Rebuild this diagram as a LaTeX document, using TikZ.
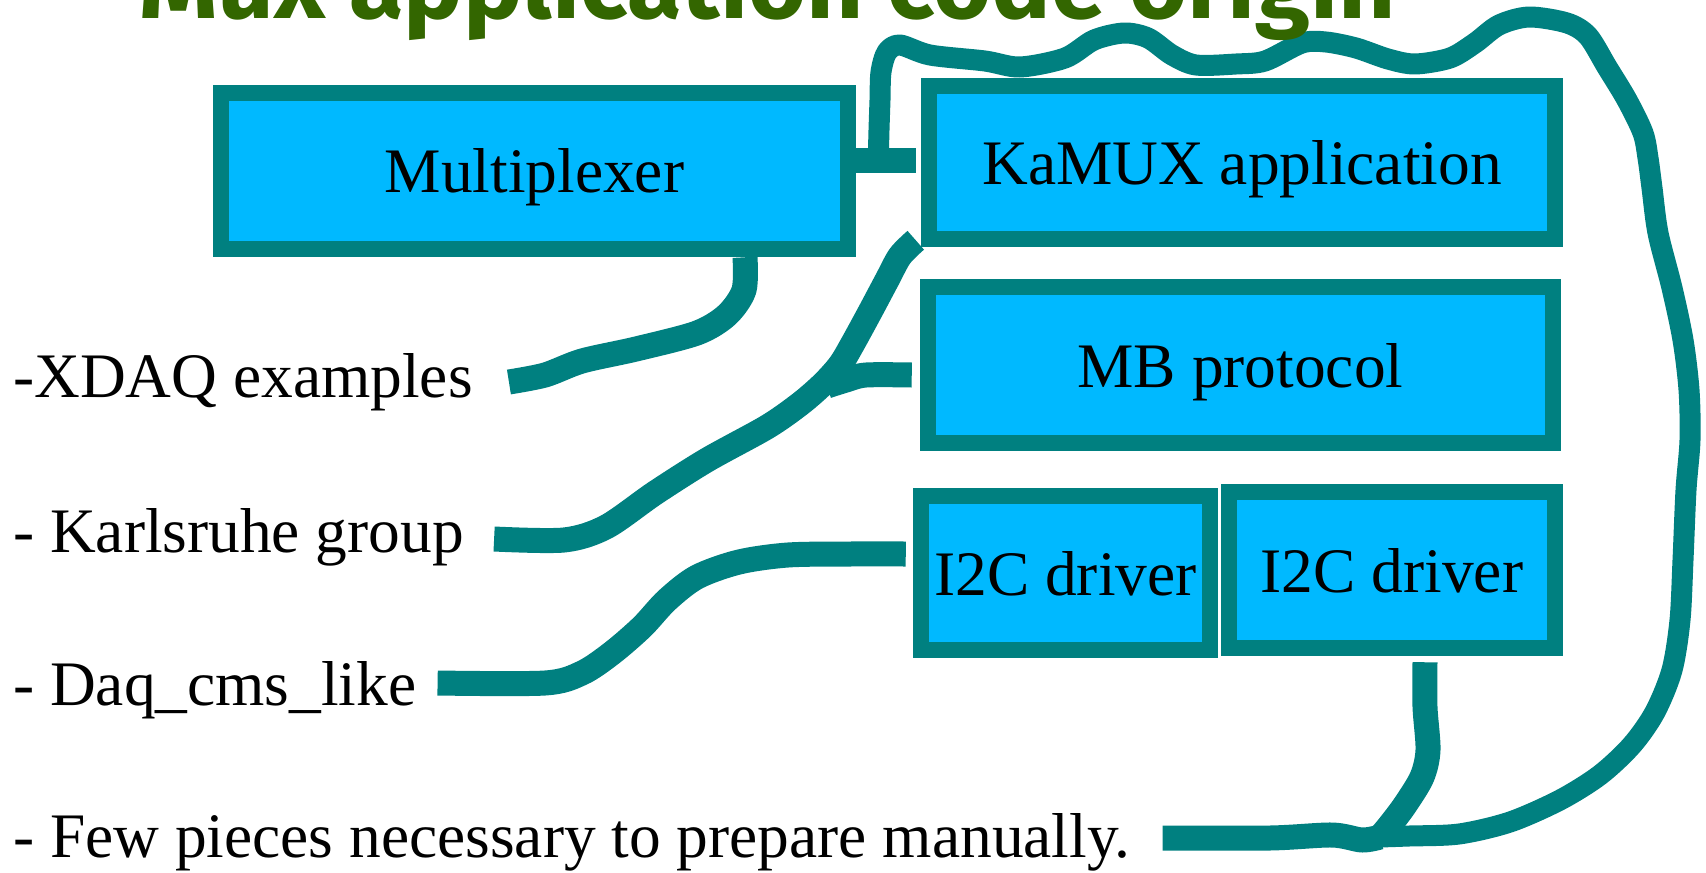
\documentclass[tikz,border=0pt]{standalone}
\usepackage{fontspec}
\setmainfont{Liberation Serif}
\newfontfamily\titlefont{Fira Sans}
\usepackage{graphicx}
\definecolor{muxteal}{RGB}{0,128,128}
\definecolor{muxblue}{RGB}{0,185,255}
\definecolor{muxgreen}{RGB}{51,102,0}

\begin{document}
\begin{tikzpicture}[x=1pt, y=-1pt,
    every node/.style={font=\fontsize{63.4}{76}\selectfont, inner sep=0pt},
    capa/.style={draw=muxteal, fill=muxblue, line width=16.5pt, text depth=0pt},
    itemtext/.style={anchor=base west},
    wire/.style={draw=muxteal, line width=25pt, line join=round},
    lazo/.style={wire, line width=21pt}
]
\useasboundingbox (0,0) rectangle (1706,873);
\clip (0,0) rectangle (1706,873);
% Capas
\node[capa, minimum width=627, minimum height=156] (mux) at (534.5,171) {Multiplexer};
\node[capa, minimum width=626, minimum height=153] (kamux) at (1242,162.5) {KaMUX application};
\node[capa, minimum width=625, minimum height=156] (mb) at (1240.5,365) {MB protocol};
\node[capa, minimum width=289, minimum height=154] (i2ca) at (1065.5,573) {I2C driver};
\node[capa, minimum width=326, minimum height=156] (i2cb) at (1392,570) {I2C driver};
% Origenes
\node[itemtext] (xdaq) at (13,397) {-XDAQ examples};
\node[itemtext] (karl) at (13,552) {- Karlsruhe group};
\node[itemtext] (daq) at (13,705) {- Daq\_cms\_like};
\node[itemtext] (few) at (13,857) {- Few pieces necessary to prepare manually.};
% Lineas
\coordinate (x0) at ([xshift=36pt,yshift=15pt]xdaq.base east);
\coordinate (x1) at ([xshift=210.5pt]mux.south);
\draw[wire] plot[smooth, tension=0.5] coordinates {(x0) (545,375) (582,361) (636,349) (697,333) (727,315) (744,290) (x1)};
\coordinate (k0) at ([xshift=30pt,yshift=13pt]karl.base east);
\coordinate (k1) at ([xshift=-5pt,yshift=7pt]kamux.south west);
\draw[wire] plot[smooth, tension=0.5] coordinates {(k0) (564,540) (606,527) (655,493) (707,460) (767,427) (800,404) (823,384) (840,365) (852,345) (870,312) (887,280) (900,256) (k1)};
\coordinate (m0) at ([xshift=-8pt,yshift=-10pt]mb.west);
\draw[wire] plot[smooth, tension=0.5] coordinates {(m0) (866,375) (846,380) (827,386)};
\coordinate (d0) at ([xshift=21pt,yshift=22pt]daq.base east);
\coordinate (d1) at ([xshift=-7pt,yshift=19pt]i2ca.west);
\draw[wire] plot[smooth, tension=0.5] coordinates {(d0) (545,683) (582,673) (612,653) (642,627) (667,600) (697,577) (739,562) (788,555) (850,554) (d1)};
\draw[wire] ([yshift=11pt]mux.east) -- ([xshift=-5pt,yshift=2.5pt]kamux.west);
\coordinate (f0) at ([xshift=32pt,yshift=19pt]few.base east);
\coordinate (junta) at (1380,837);
\draw[wire] plot[smooth, tension=0.5] coordinates {(f0) (1270,838) (1332,835) (1362,840) (junta)};
\coordinate (b0) at ([xshift=33pt,yshift=-6pt]i2cb.south);
\draw[wire] plot[smooth, tension=0.5] coordinates {(b0) (1425,707) (1428,750) (1422,777) (1405,805) (1390,825) (junta)};
\coordinate (f1) at ([xshift=22pt,yshift=11pt]mux.east);
\draw[lazo] plot[smooth, tension=0.5] coordinates {(junta) (1409,836) (1459,834) (1510,822) (1560,800) (1600,775) (1632,745) (1655,712) (1672,670) (1680,620) (1683,560) (1686,490) (1690,440) (1689,390) (1683,340) (1672,288) (1658,233) (1652,188) (1648,158) (1643,133) (1627,100) (1607,67) (1588,36) (1567,23) (1529,17) (1499,25) (1475,43) (1450,58) (1415,64) (1388,59) (1356,48) (1326,42) (1302,43) (1265,61) (1236,64) (1196,65) (1172,55) (1148,38) (1124,33) (1094,40) (1065,58) (1020,67) (985,61) (930,55) (900,45) (887,52) (881,72) (880,100) (879,130) (f1)};
% Titulo (cortado arriba)
\node[anchor=base west, text=muxgreen] (titulo) at (139,18) {\resizebox{1257pt}{!}{\titlefont\bfseries Mux application code origin}};
\end{tikzpicture}
\end{document}
